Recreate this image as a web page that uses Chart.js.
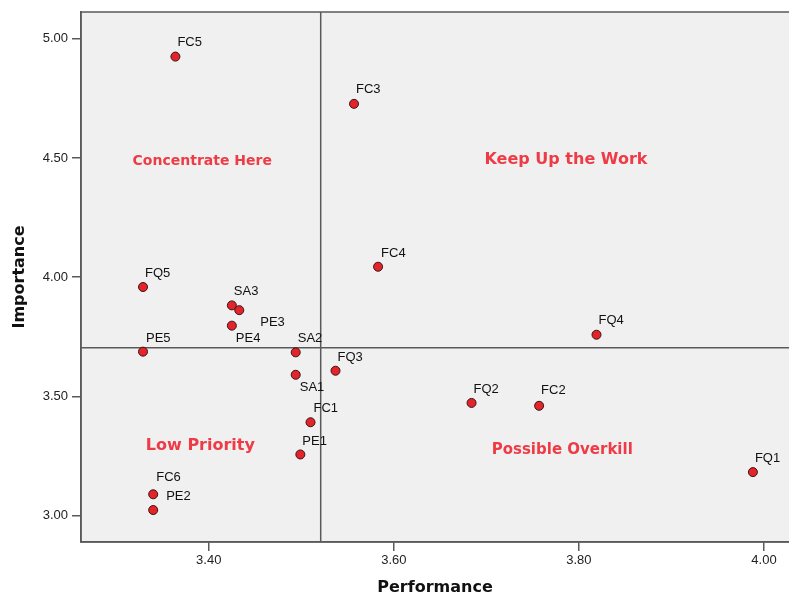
<!DOCTYPE html>
<html lang="en">
<head>
<meta charset="UTF-8">
<title>Importance vs Performance</title>
<style>
  html, body { margin: 0; padding: 0; background: #fff; overflow: hidden; }
  canvas { display: block; }
</style>
</head>
<body>
<canvas id="ipa" width="789" height="596"></canvas>
<script src="https://cdn.jsdelivr.net/npm/chart.js"></script>
<script>
// attribute data
const names = ['FC5', 'FC3', 'FC4', 'FQ5', 'SA3', 'PE3', 'PE4', 'PE5', 'SA2', 'FQ3',
  'SA1', 'FC1', 'PE1', 'FC6', 'PE2', 'FQ4', 'FQ2', 'FC2', 'FQ1'];
const performance = [3.364, 3.557, 3.583, 3.329, 3.425, 3.433, 3.425, 3.329, 3.494, 3.537,
  3.494, 3.510, 3.499, 3.340, 3.340, 3.819, 3.684, 3.757, 3.988];
const importance = [4.925, 4.727, 4.044, 3.959, 3.882, 3.862, 3.797, 3.688, 3.685, 3.608,
  3.591, 3.392, 3.257, 3.090, 3.024, 3.759, 3.473, 3.461, 3.183];

// quadrant split (means)
const perfMean = 3.521;
const impMean = 3.704;

const xTicks = [3.40, 3.60, 3.80, 4.00];
const yTicks = [3.00, 3.50, 4.00, 4.50, 5.00];

const quadText = ['Concentrate Here', 'Keep Up the Work', 'Low Priority', 'Possible Overkill'];
const quadX = [3.393, 3.786, 3.391, 3.782];
const quadY = [4.487, 4.491, 3.293, 3.275];

// label placement relative to each point (px), and quadrant text sizes
const labelShift = [[2,-14],[2,-14],[3,-13],[2,-14],[2,-14],[21,12],[4,13],[3,-13],[2,-14],[2,-13],
  [4,13],[3,-14],[2,-13],[3,-17],[13,-14],[2,-14],[2,-14],[2,-15],[2,-14]];
const quadSize = [14, 16, 16, 15];

const frameColor = '#5a5a5a';
const labelFont = '13px "Liberation Sans", Arial, sans-serif';

const backdrop = {
  id: 'backdrop',
  beforeDraw(chart) {
    const { ctx, chartArea: a } = chart;
    ctx.save();
    ctx.fillStyle = '#f0f0f0';
    ctx.fillRect(a.left, a.top, a.right - a.left, a.bottom - a.top);
    ctx.restore();
  },
  beforeDatasetsDraw(chart) {
    const { ctx, chartArea: a, scales } = chart;
    const px = scales.x.getPixelForValue(perfMean);
    const py = scales.y.getPixelForValue(impMean);
    ctx.save();
    ctx.strokeStyle = frameColor;
    ctx.lineWidth = 1.5;
    ctx.beginPath();
    ctx.moveTo(px, a.top); ctx.lineTo(px, a.bottom);
    ctx.moveTo(a.left, py); ctx.lineTo(a.right, py);
    ctx.stroke();
    ctx.strokeRect(a.left, a.top, a.right - a.left + 3, a.bottom - a.top);

    // quadrant captions
    ctx.fillStyle = '#ee3b45';
    ctx.textAlign = 'center';
    ctx.textBaseline = 'middle';
    quadText.forEach((t, i) => {
      ctx.font = 'bold ' + quadSize[i] + 'px "DejaVu Sans", sans-serif';
      ctx.fillText(t, scales.x.getPixelForValue(quadX[i]), scales.y.getPixelForValue(quadY[i]));
    });
    ctx.restore();
  },
  afterDatasetsDraw(chart) {
    const { ctx } = chart;
    const meta = chart.getDatasetMeta(0);
    ctx.save();
    ctx.fillStyle = '#111';
    ctx.font = labelFont;
    ctx.textAlign = 'left';
    ctx.textBaseline = 'middle';
    meta.data.forEach((pt, i) => {
      ctx.fillText(names[i], pt.x + labelShift[i][0], pt.y + labelShift[i][1]);
    });
    ctx.restore();
  }
};

new Chart(document.getElementById('ipa'), {
  type: 'scatter',
  data: {
    datasets: [{
      data: performance.map((p, i) => ({ x: p, y: importance[i] })),
      backgroundColor: '#e3242b',
      borderColor: '#3b1414',
      borderWidth: 1,
      pointRadius: 4.5
    }]
  },
  options: {
    responsive: false,
    animation: false,
    layout: { autoPadding: false, padding: { top: 12, left: 0, right: 0, bottom: 0 } },
    plugins: { legend: { display: false }, tooltip: { enabled: false } },
    scales: {
      x: {
        type: 'linear',
        min: 3.262,
        max: 4.027,
        afterBuildTicks: s => { s.ticks = xTicks.map(v => ({ value: v })); },
        afterFit: s => { s.height = 54; s.paddingRight = 0; s.paddingLeft = 0; },
        grid: { display: true, drawOnChartArea: false, drawTicks: true, tickLength: 9, color: frameColor, lineWidth: 1.5 },
        border: { display: true, color: frameColor, width: 1.5 },
        ticks: {
          color: '#222',
          font: { family: '"Liberation Sans", Arial, sans-serif', size: 13 },
          padding: 2,
          maxRotation: 0,
          callback: v => Number(v).toFixed(2)
        },
        title: {
          display: true,
          text: 'Performance',
          color: '#111',
          font: { family: '"DejaVu Sans", sans-serif', size: 16, weight: 'bold', lineHeight: 1 },
          padding: { top: 0, bottom: 0 }
        }
      },
      y: {
        type: 'linear',
        min: 2.890,
        max: 5.112,
        afterBuildTicks: s => { s.ticks = yTicks.map(v => ({ value: v })); },
        afterFit: s => { s.width = 81; s.paddingTop = 0; s.paddingBottom = 0; },
        grid: { display: true, drawOnChartArea: false, drawTicks: true, tickLength: 9, color: frameColor, lineWidth: 1.5 },
        border: { display: true, color: frameColor, width: 1.5 },
        ticks: {
          color: '#222',
          font: { family: '"Liberation Sans", Arial, sans-serif', size: 13 },
          padding: 4,
          callback: v => Number(v).toFixed(2)
        },
        title: {
          display: true,
          text: 'Importance',
          color: '#111',
          font: { family: '"DejaVu Sans", sans-serif', size: 16, weight: 'bold', lineHeight: 1 },
          padding: { top: 12, bottom: 0 }
        }
      }
    }
  },
  plugins: [backdrop]
});
</script>
</body>
</html>
